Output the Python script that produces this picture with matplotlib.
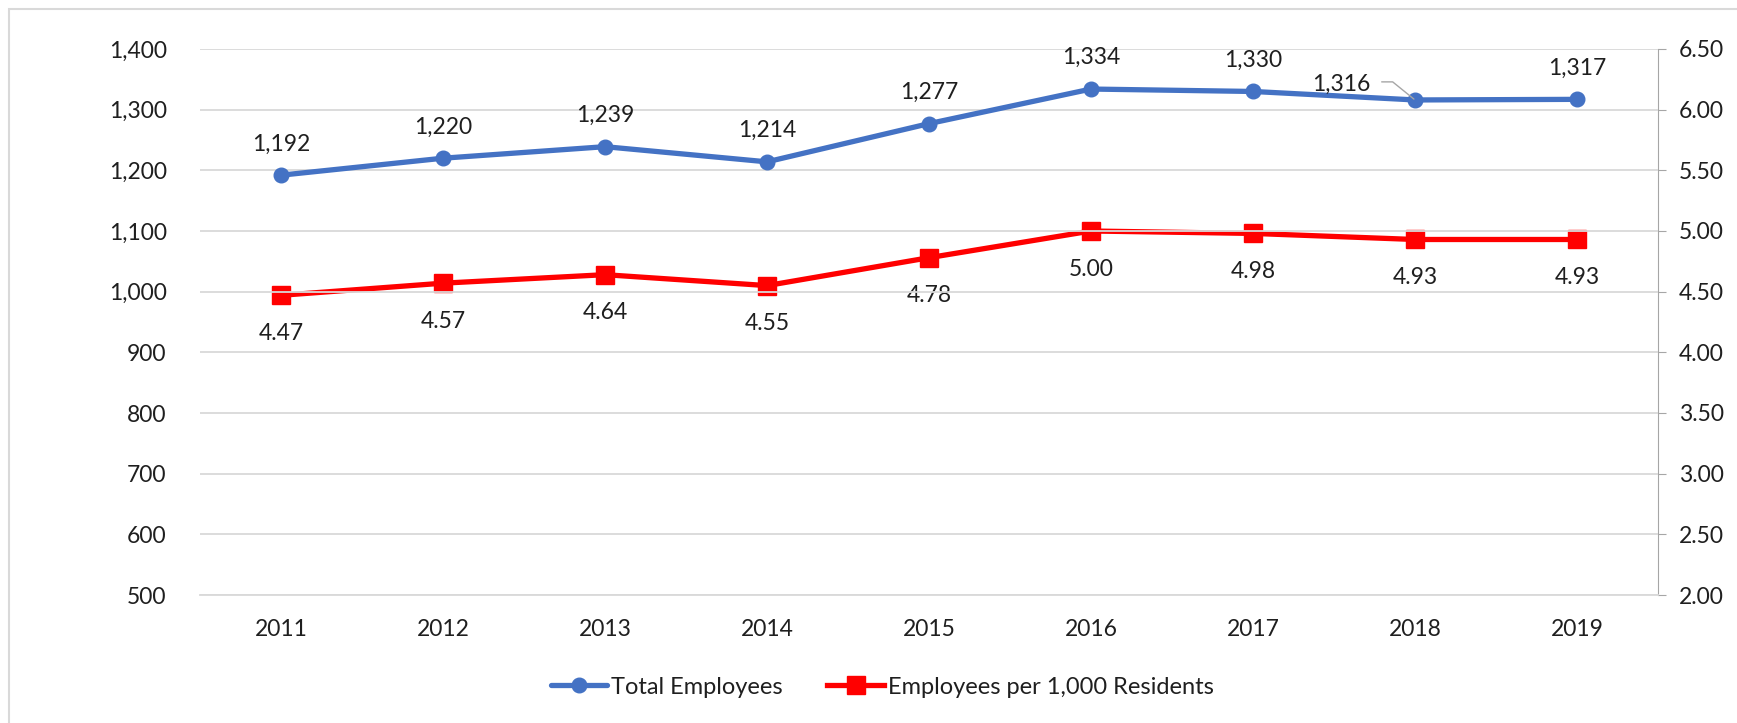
import matplotlib
matplotlib.use("Agg")
import matplotlib.pyplot as plt
from matplotlib.patches import Rectangle
from matplotlib.ticker import FuncFormatter, MultipleLocator

years = ["2011", "2012", "2013", "2014", "2015", "2016", "2017", "2018", "2019"]
total_employees = [1192, 1220, 1239, 1214, 1277, 1334, 1330, 1316, 1317]
per_1000 = [4.47, 4.57, 4.64, 4.55, 4.78, 5.00, 4.98, 4.93, 4.93]

plt.rcParams['font.family'] = ['Lato', 'DejaVu Sans']
W, H = 1737, 723
fig = plt.figure(figsize=(W / 100, H / 100), dpi=100)
fig.patches.append(Rectangle((9 / W, -0.1), 2, 1 - 9 / H + 0.1, transform=fig.transFigure,
                             fill=False, edgecolor="#D9D9D9", linewidth=1.5))

L, R, T, B = 200, 1658, 49, 595
ax = fig.add_axes([L / W, 1 - B / H, (R - L) / W, (B - T) / H])
ax2 = ax.twinx()
ax.set_zorder(ax2.get_zorder() + 1)
ax.patch.set_visible(False)

x = list(range(len(years)))
blue = "#4472C4"
red = "#FF0000"
txt = "#1f1f1f"
fs = 16.5

l1, = ax.plot(x, total_employees, color=blue, lw=3.8, marker="o", ms=10.5, label="Total Employees",
              solid_capstyle="round")
l2, = ax2.plot(x, per_1000, color=red, lw=3.8, marker="s", ms=13, label="Employees per 1,000 Residents")

ax.set_xlim(-0.5, len(years) - 0.5)
ax.set_ylim(500, 1400)
ax.yaxis.set_major_locator(MultipleLocator(100))
ax.yaxis.set_major_formatter(FuncFormatter(lambda v, p: f"{int(v):,}"))
ax2.set_ylim(2.0, 6.5)
ax2.yaxis.set_major_locator(MultipleLocator(0.5))
ax2.yaxis.set_major_formatter(FuncFormatter(lambda v, p: f"{v:.2f}"))
ax.set_xticks(x)
ax.set_xticklabels(years)

ax.grid(axis="y", color="#D9D9D9", lw=1.3)
ax.set_axisbelow(True)
for a in (ax, ax2):
    for s in a.spines.values():
        s.set_visible(False)
ax.spines["bottom"].set_visible(True)
ax.spines["bottom"].set_color("#D9D9D9")
ax.spines["bottom"].set_linewidth(1.3)
ax2.spines["right"].set_visible(True)
ax2.spines["right"].set_color("#A6A6A6")
ax.tick_params(axis="y", length=0, pad=24, labelsize=fs, labelcolor=txt)
ax.tick_params(axis="x", length=0, pad=17, labelsize=fs, labelcolor=txt)
ax2.tick_params(axis="y", length=6, color="#A6A6A6", pad=9, labelsize=fs, labelcolor=txt)

for i, v in enumerate(total_employees):
    if years[i] == "2018":
        ax.annotate(f"{v:,}", xy=(i, v), xytext=(-53, 11.5), textcoords="offset points",
                    ha="center", va="center", fontsize=fs, color=txt,
                    arrowprops=dict(arrowstyle="-", color="#A6A6A6", lw=1,
                                    connectionstyle="angle,angleA=0,angleB=141,rad=0",
                                    relpos=(1, 0.6), shrinkA=6, shrinkB=1))
    else:
        ax.annotate(f"{v:,}", xy=(i, v), xytext=(0, 22.5), textcoords="offset points",
                    ha="center", va="center", fontsize=fs, color=txt)
for i, v in enumerate(per_1000):
    ax2.annotate(f"{v:.2f}", xy=(i, v), xytext=(0, -27.5), textcoords="offset points",
                 ha="center", va="center", fontsize=fs, color=txt)

fig.legend(handles=[l1, l2], loc="center", bbox_to_anchor=(882 / W, 1 - 687 / H),
           ncol=2, frameon=False, fontsize=fs + 0.5, handlelength=2.4, handletextpad=0.15,
           columnspacing=1.9, labelcolor=txt)

fig.savefig("out.png", dpi=100, facecolor="white")
